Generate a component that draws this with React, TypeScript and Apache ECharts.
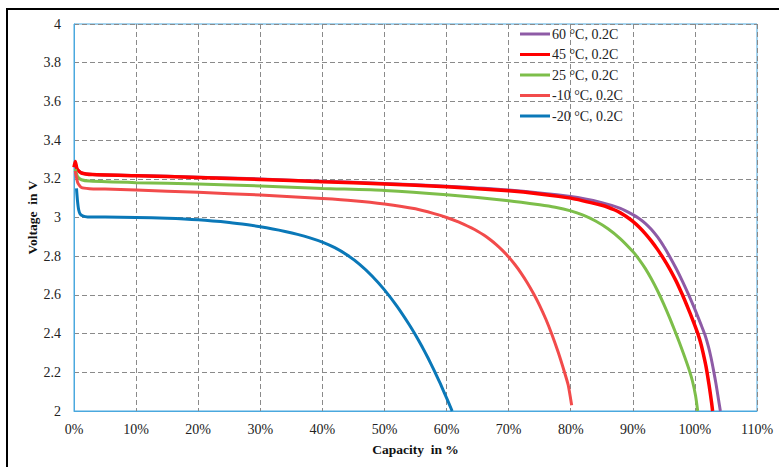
import React, { useEffect, useRef } from "react";
import * as echarts from "echarts";

const seriesNames = ["60 °C, 0.2C", "45 °C, 0.2C", "25 °C, 0.2C", "-10 °C, 0.2C", "-20 °C, 0.2C"];
const seriesColors = ["#8E5BA6", "#FF0000", "#7DBE4A", "#F24B4B", "#0A78B8"];
const seriesWidths = [3, 3.5, 3, 3, 3];

const xTicks = [0, 10, 20, 30, 40, 50, 60, 70, 80, 90, 100, 110];

const data60: [number, number][] = [
  [0.2, 3.28], [0.5, 3.25], [1.2, 3.23], [3, 3.222], [10, 3.217], [20, 3.208], [30, 3.199],
  [40, 3.187], [50, 3.176], [60, 3.162], [70, 3.142], [80, 3.108], [85, 3.077], [88, 3.047],
  [90, 3.015], [91, 2.995], [92, 2.97], [93, 2.938], [94, 2.898], [95, 2.85], [96, 2.795],
  [97, 2.735], [98, 2.67], [99, 2.6], [100, 2.525], [101, 2.445], [101.6, 2.395], [102.2, 2.33],
  [102.6, 2.275], [103, 2.21], [103.4, 2.14], [103.8, 2.06], [104.1, 2.0],
];
const data45: [number, number][] = [
  [0, 3.26], [0.2, 3.29], [0.5, 3.25], [1.2, 3.23], [3, 3.222], [10, 3.216], [20, 3.207],
  [30, 3.197], [40, 3.185], [50, 3.173], [60, 3.159], [70, 3.138], [75, 3.122], [80, 3.1],
  [85, 3.063], [86, 3.053], [87, 3.04], [88, 3.024], [89, 3.004], [90, 2.98], [91, 2.951],
  [92, 2.917], [93, 2.878], [94, 2.834], [95, 2.785], [96, 2.731], [97, 2.67], [97.9, 2.607],
  [98.5, 2.562], [99, 2.523], [99.5, 2.483], [100, 2.441], [100.5, 2.397], [100.9, 2.355],
  [101.3, 2.303], [101.8, 2.228], [102.3, 2.13], [102.7, 2.04], [102.85, 2.0],
];
const data25: [number, number][] = [
  [0.2, 3.25], [0.6, 3.21], [1.2, 3.195], [2.5, 3.188], [10, 3.18], [20, 3.173], [30, 3.163],
  [40, 3.15], [50, 3.14], [60, 3.118], [70, 3.087], [75, 3.066], [77.5, 3.053], [80, 3.034],
  [82, 3.012], [84, 2.982], [86, 2.942], [88, 2.89], [90, 2.824], [91, 2.784], [92, 2.737],
  [93, 2.682], [94, 2.62], [95, 2.551], [96, 2.476], [96.8, 2.412], [97.5, 2.354], [98.3, 2.284],
  [99.1, 2.21], [99.6, 2.155], [100.1, 2.08], [100.45, 2.0],
];
const dataM10: [number, number][] = [
  [0.2, 3.24], [0.6, 3.18], [1.2, 3.155], [2.5, 3.149], [5, 3.147], [10, 3.142], [20, 3.13],
  [30, 3.116], [40, 3.098], [45, 3.087], [50, 3.07], [55, 3.045], [58, 3.02], [60, 3.0],
  [62, 2.976], [64, 2.946], [65, 2.929], [66, 2.909], [67, 2.886], [68, 2.86], [69, 2.83],
  [70, 2.796], [71, 2.757], [72, 2.713], [73, 2.663], [74, 2.607], [75, 2.545], [76, 2.474],
  [77, 2.393], [78, 2.302], [79, 2.2], [79.6, 2.133], [80.15, 2.03],
];
const dataM20: [number, number][] = [
  [0.4, 3.15], [0.55, 3.09], [0.75, 3.04], [1.0, 3.018], [1.5, 3.007], [2.2, 3.003], [5, 3.002],
  [10, 3.0], [15, 2.996], [20, 2.988], [25, 2.974], [28, 2.962], [30, 2.952], [32, 2.941],
  [34, 2.928], [36, 2.913], [38, 2.895], [40, 2.873], [42, 2.844], [44, 2.806], [46, 2.758],
  [48, 2.698], [50, 2.626], [52, 2.542], [54, 2.446], [55, 2.393], [56, 2.336], [57, 2.275],
  [58, 2.21], [59, 2.141], [60, 2.068], [60.9, 2.0],
];
const allData = [data60, data45, data25, dataM10, dataM20];

const FONT = "Liberation Serif";

export default function App() {
  const ref = useRef<HTMLDivElement>(null);
  useEffect(() => {
    if (!ref.current) return;
    const chart = echarts.init(ref.current, null, { renderer: "svg" });
    chart.setOption({
      animation: false,
      backgroundColor: "#fff",
      textStyle: { fontFamily: FONT },
      grid: {
        left: 74, top: 24, right: 22, bottom: 56,
        show: true, borderColor: "#4AA8DE", borderWidth: 1,
      },
      legend: {
        orient: "vertical",
        left: 515,
        top: 22,
        itemWidth: 30,
        itemHeight: 3,
        itemGap: 6.5,
        icon: "rect",
        data: seriesNames,
        textStyle: { fontFamily: FONT, fontSize: 14, color: "#222", padding: [0, 0, 0, -3] },
      },
      xAxis: {
        type: "value",
        min: xTicks[0],
        max: xTicks[xTicks.length - 1],
        interval: 10,
        name: "Capacity  in %",
        nameLocation: "middle",
        nameGap: 31,
        nameMoveOverlap: false,
        nameTextStyle: { fontFamily: FONT, fontSize: 13.5, fontWeight: "bold", color: "#111" },
        axisLine: { show: true, lineStyle: { color: "#4AA8DE" } },
        axisTick: { show: false },
        axisLabel: { fontFamily: FONT, fontSize: 14, color: "#222", margin: 11, formatter: "{value}%" },
        splitLine: { show: true, lineStyle: { color: "#8a8a8a", type: [5, 3], width: 1 } },
      },
      yAxis: {
        type: "value",
        min: 2,
        max: 4,
        interval: 0.2,
        name: "Voltage  in V",
        nameLocation: "middle",
        nameGap: 35,
        nameMoveOverlap: false,
        nameRotate: 90,
        nameTextStyle: { fontFamily: FONT, fontSize: 13.5, fontWeight: "bold", color: "#111" },
        axisLine: { show: true, lineStyle: { color: "#4AA8DE" } },
        axisTick: { show: false },
        axisLabel: { fontFamily: FONT, fontSize: 14, color: "#222", margin: 13 },
        splitLine: { show: true, lineStyle: { color: "#8a8a8a", type: [5, 3], width: 1 } },
      },
      graphic: [
        {
          type: "rect",
          shape: { x: 7, y: 9, width: 820, height: 520 },
          style: { fill: "none", stroke: "#000", lineWidth: 2 },
          silent: true,
        },
      ],
      series: seriesNames.map((name, i) => ({
        name,
        type: "line",
        data: allData[i],
        showSymbol: false,
        symbol: "none",
        smooth: 0.2,
        lineStyle: { color: seriesColors[i], width: seriesWidths[i] },
        itemStyle: { color: seriesColors[i] },
      })),
    });
    return () => chart.dispose();
  }, []);
  return <div ref={ref} style={{ position: "fixed", left: 0, top: 0, width: 779, height: 467 }} />;
}
